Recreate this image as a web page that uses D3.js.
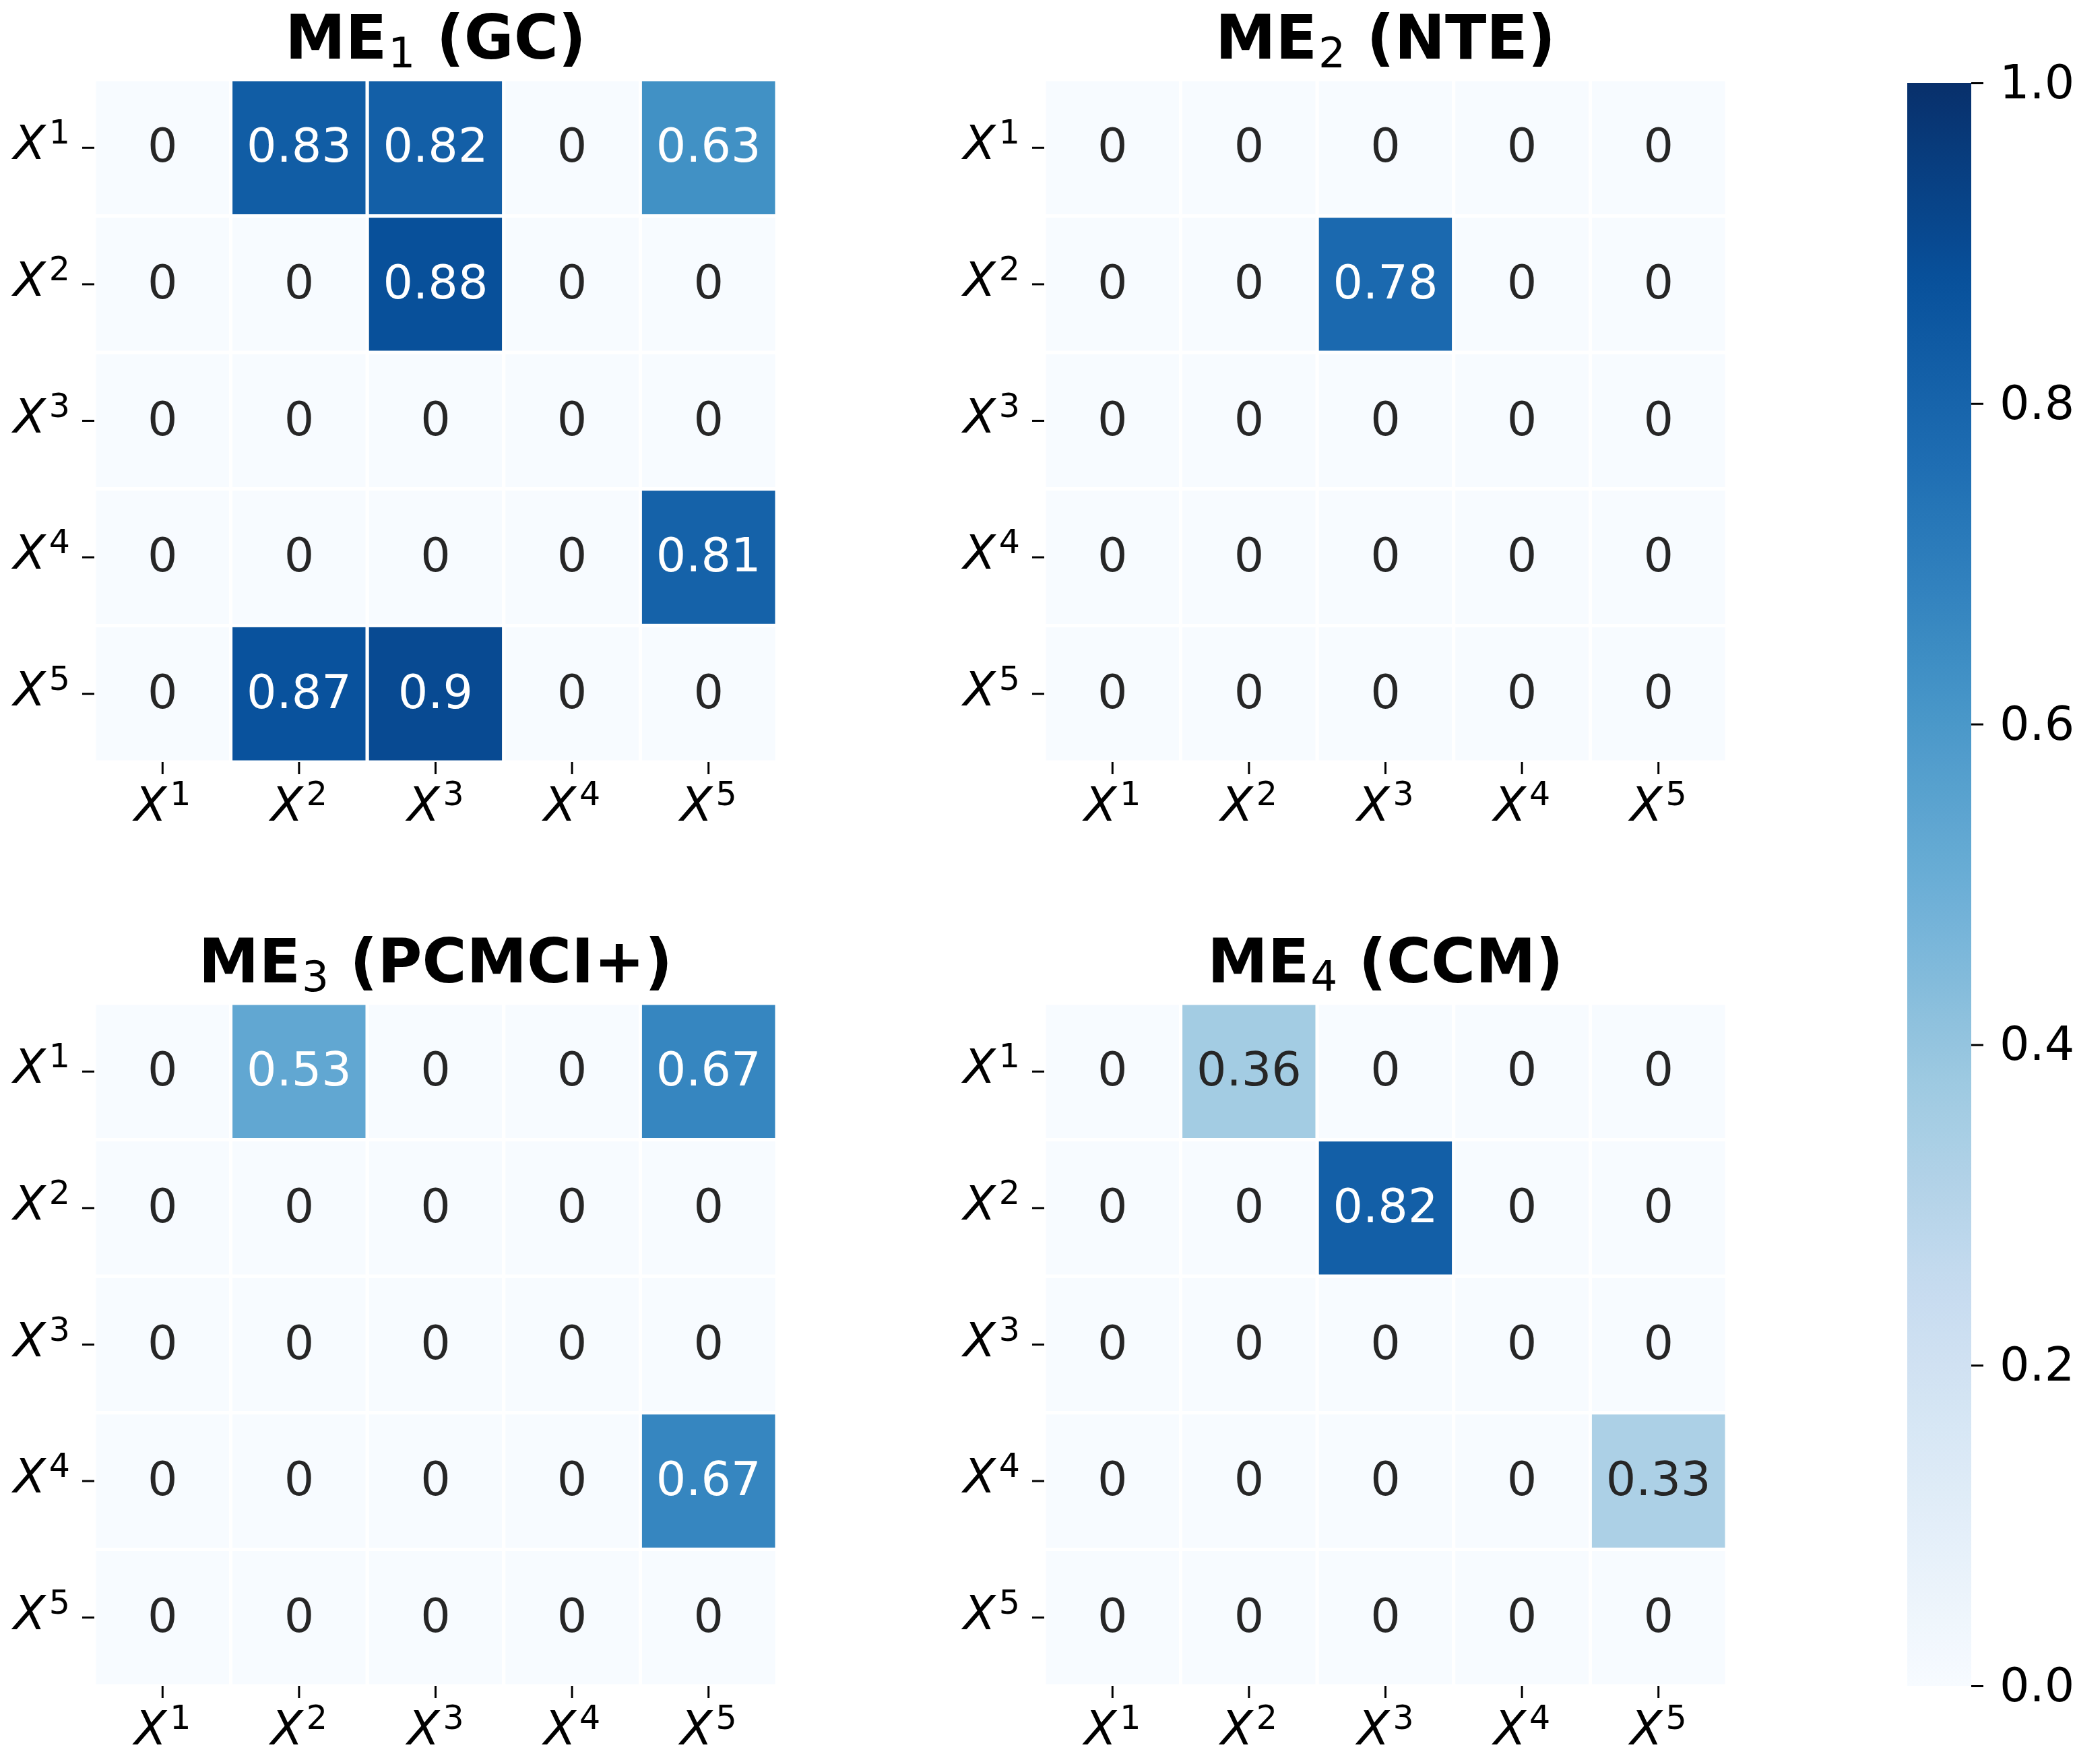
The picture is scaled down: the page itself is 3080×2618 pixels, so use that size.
<!DOCTYPE html>
<html lang="en">
  <head>
    <meta charset="UTF-8">
    <title>Causal heatmaps</title>
    <style>
body{
    margin: 0;
    background: #fff;
}
text{
    font-family: "DejaVu Sans", sans-serif;
}
    </style>
  </head>
  <body>
    <script src="https://cdn.jsdelivr.net/npm/d3@7/dist/d3.min.js" charset="UTF-8"></script>
    <script>
// variables on both axes
var vars = ["1", "2", "3", "4", "5"];

// titles of the four panels: [main, subscript, rest]
var titles = [
    ["ME", "1", " (GC)"],
    ["ME", "2", " (NTE)"],
    ["ME", "3", " (PCMCI+)"],
    ["ME", "4", " (CCM)"]
];

// rows = X^i (effect from), columns = X^j
var me1 = [
    [0, 0.83, 0.82, 0, 0.63],
    [0, 0, 0.88, 0, 0],
    [0, 0, 0, 0, 0],
    [0, 0, 0, 0, 0.81],
    [0, 0.87, 0.9, 0, 0]
];
var me2 = [
    [0, 0, 0, 0, 0],
    [0, 0, 0.78, 0, 0],
    [0, 0, 0, 0, 0],
    [0, 0, 0, 0, 0],
    [0, 0, 0, 0, 0]
];
var me3 = [
    [0, 0.53, 0, 0, 0.67],
    [0, 0, 0, 0, 0],
    [0, 0, 0, 0, 0],
    [0, 0, 0, 0, 0.67],
    [0, 0, 0, 0, 0]
];
var me4 = [
    [0, 0.36, 0, 0, 0],
    [0, 0, 0.82, 0, 0],
    [0, 0, 0, 0, 0],
    [0, 0, 0, 0, 0.33],
    [0, 0, 0, 0, 0]
];
var matrices = [me1, me2, me3, me4];

var cbarTicks = [0, 0.2, 0.4, 0.6, 0.8, 1.0];

// matplotlib "Blues" (linear segments between the brewer colours)
var blues = ["#f7fbff", "#deebf7", "#c6dbef", "#9ecae1", "#6baed6", "#4292c6", "#2171b5", "#08519c", "#08306b"];
var color = d3.scaleLinear()
    .domain(d3.range(blues.length).map(function(i){ return i / (blues.length - 1); }))
    .range(blues)
    .interpolate(d3.interpolateRgb)
    .clamp(true);

var W = 3080, H = 2618;
var fontSize = 70;
var hmSize = 1013;
var panels = [
    {x: 140, y: 118},
    {x: 1550, y: 118},
    {x: 140, y: 1489},
    {x: 1550, y: 1489}
];

var svg = d3.select("body").append("svg")
    .attr("width", W)
    .attr("height", H);

var fmt = d3.format(".2~g");

function luminance(c){
    var rgb = d3.rgb(c);
    var lin = [rgb.r, rgb.g, rgb.b].map(function(v){
        v = v / 255;
        return v <= 0.03928 ? v / 12.92 : Math.pow((v + 0.055) / 1.055, 2.4);
    });
    return 0.2126 * lin[0] + 0.7152 * lin[1] + 0.0722 * lin[2];
}

// write "X^k" into a text element
function supLabel(sel){
    sel.text(null);
    sel.append("tspan").attr("font-style", "italic").text("X");
    sel.append("tspan")
        .attr("font-size", fontSize * 0.7)
        .attr("dx", 5)
        .attr("dy", -23)
        .text(function(d){ return d; });
}

function drawPanel(idx){
    var p = panels[idx];
    var data = matrices[idx];
    var g = svg.append("g").attr("transform", "translate(" + p.x + "," + p.y + ")");

    var x = d3.scaleBand().domain(vars).range([0, hmSize]);
    var y = d3.scaleBand().domain(vars).range([0, hmSize]);

    var cells = [];
    data.forEach(function(row, i){
        row.forEach(function(v, j){
            cells.push({r: vars[i], c: vars[j], v: v});
        });
    });

    g.selectAll("rect.cell")
        .data(cells)
        .enter().append("rect")
        .attr("class", "cell")
        .attr("x", function(d){ return x(d.c); })
        .attr("y", function(d){ return y(d.r); })
        .attr("width", x.bandwidth())
        .attr("height", y.bandwidth())
        .attr("fill", function(d){ return color(d.v); })
        .attr("stroke", "#fff")
        .attr("stroke-width", 5);

    g.selectAll("text.annot")
        .data(cells)
        .enter().append("text")
        .attr("class", "annot")
        .attr("x", function(d){ return x(d.c) + x.bandwidth() / 2; })
        .attr("y", function(d){ return y(d.r) + y.bandwidth() / 2 + 21; })
        .attr("text-anchor", "middle")
        .attr("font-size", fontSize)
        .attr("fill", function(d){ return luminance(color(d.v)) > 0.408 ? "#262626" : "#fff"; })
        .text(function(d){ return fmt(d.v); });

    // y axis
    var ya = g.append("g").call(d3.axisLeft(y).tickSize(18).tickPadding(18));
    ya.select(".domain").remove();
    ya.selectAll(".tick line").attr("stroke", "#000").attr("stroke-width", 3);
    ya.selectAll(".tick text")
        .attr("font-size", fontSize)
        .attr("font-family", "DejaVu Sans")
        .attr("fill", "#000")
        .attr("dy", 17)
        .each(function(){ supLabel(d3.select(this)); });

    // x axis
    var xa = g.append("g")
        .attr("transform", "translate(0," + hmSize + ")")
        .call(d3.axisBottom(x).tickSize(18).tickPadding(18));
    xa.select(".domain").remove();
    xa.selectAll(".tick line").attr("stroke", "#000").attr("stroke-width", 3);
    xa.selectAll(".tick text")
        .attr("font-size", fontSize)
        .attr("font-family", "DejaVu Sans")
        .attr("fill", "#000")
        .attr("y", 87)
        .attr("dy", 0)
        .each(function(){ supLabel(d3.select(this)); });

    // title
    var t = titles[idx];
    var title = g.append("text")
        .attr("x", hmSize / 2)
        .attr("y", -31)
        .attr("text-anchor", "middle")
        .attr("font-size", 90)
        .attr("font-weight", "bold")
        .attr("fill", "#000");
    title.append("tspan").text(t[0]);
    title.append("tspan")
        .attr("font-weight", "normal")
        .attr("font-size", 63)
        .attr("dx", 2)
        .attr("dy", 13)
        .text(t[1]);
    title.append("tspan").attr("dy", -13).text(t[2]);
}

for(var k = 0; k < matrices.length; k++){
    drawPanel(k);
}

// colour bar
var cb = {x: 2831, y: 123, w: 95, h: 2379};
var cy = d3.scaleLinear().domain([0, 1]).range([cb.y + cb.h, cb.y]);

var grad = svg.append("defs").append("linearGradient")
    .attr("id", "cbar")
    .attr("x1", 0).attr("y1", 1)
    .attr("x2", 0).attr("y2", 0);
grad.selectAll("stop")
    .data(d3.range(0, 1.0001, 0.02))
    .enter().append("stop")
    .attr("offset", function(d){ return d; })
    .attr("stop-color", function(d){ return color(d); });

svg.append("rect")
    .attr("x", cb.x)
    .attr("y", cb.y)
    .attr("width", cb.w)
    .attr("height", cb.h)
    .attr("fill", "url(#cbar)");

var ca = svg.append("g")
    .attr("transform", "translate(" + (cb.x + cb.w) + ",0)")
    .call(d3.axisRight(cy).tickValues(cbarTicks).tickFormat(d3.format(".1f")).tickSize(18).tickPadding(24));
ca.select(".domain").remove();
ca.selectAll(".tick line").attr("stroke", "#000").attr("stroke-width", 3);
ca.selectAll(".tick text")
    .attr("font-size", fontSize)
    .attr("font-family", "DejaVu Sans")
    .attr("fill", "#000");
    </script>
  </body>
</html>
